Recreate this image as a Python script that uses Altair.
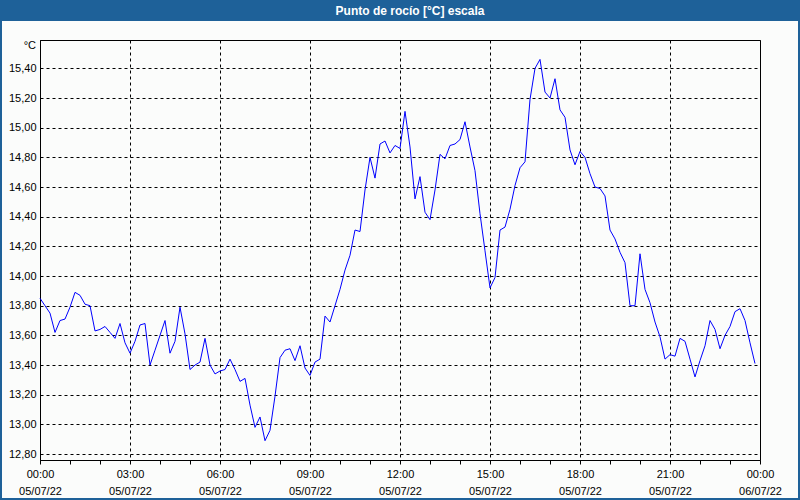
import altair as alt
import pandas as pd

# ---- data (10-minute readings, 05/07/22) ----
title_text = "Punto de rocío [°C] escala"
unit_text = "°C"
day1 = "05/07/22"
day2 = "06/07/22"
step_minutes = 10

dew_point = [
    13.85, 13.80, 13.75, 13.62, 13.70, 13.71, 13.79, 13.89, 13.87, 13.81,
    13.80, 13.63, 13.64, 13.66, 13.62, 13.58, 13.68, 13.55, 13.48, 13.56,
    13.67, 13.68, 13.40, 13.50, 13.60, 13.70, 13.48, 13.56, 13.79, 13.61,
    13.37, 13.40, 13.42, 13.58, 13.40, 13.34, 13.36, 13.37, 13.44, 13.37,
    13.29, 13.31, 13.13, 12.98, 13.05, 12.89, 12.96, 13.19, 13.45, 13.50,
    13.51, 13.43, 13.53, 13.38, 13.33, 13.42, 13.44, 13.73, 13.69, 13.80,
    13.91, 14.04, 14.14, 14.31, 14.30, 14.58, 14.80, 14.66, 14.89, 14.91,
    14.83, 14.88, 14.86, 15.11, 14.87, 14.52, 14.67, 14.43, 14.38, 14.58,
    14.82, 14.79, 14.88, 14.89, 14.92, 15.04, 14.87, 14.71, 14.42, 14.17,
    13.92, 13.99, 14.31, 14.33, 14.45, 14.61, 14.73, 14.77, 15.19, 15.40,
    15.46, 15.24, 15.20, 15.33, 15.12, 15.07, 14.85, 14.75, 14.84, 14.80,
    14.69, 14.60, 14.59, 14.54, 14.31, 14.25, 14.16, 14.09, 13.80, 13.80,
    14.15, 13.91, 13.82, 13.69, 13.59, 13.44, 13.47, 13.46, 13.58, 13.56,
    13.44, 13.32, 13.43, 13.53, 13.70, 13.64, 13.51, 13.60, 13.66, 13.76,
    13.78, 13.70, 13.55, 13.41,
]
hours = [i * step_minutes / 60 for i in range(len(dew_point))]

y_ticks = [12.8, 13.0, 13.2, 13.4, 13.6, 13.8, 14.0, 14.2, 14.4, 14.6, 14.8, 15.0, 15.2, 15.4]
x_ticks = list(range(0, 25))
y_domain = [12.76, 15.591]
x_domain = [0, 24]

df = pd.DataFrame({"h": hours, "v": dew_point})
one = pd.DataFrame({"k": [0]})

W, H = 720, 420
BLUE = "#1e6199"
FONT = "Liberation Sans"

x_label_expr = (
    "datum.value % 3 === 0 ? "
    "[(datum.value % 24 < 10 ? '0' : '') + (datum.value % 24) + ':00', "
    f"datum.value < 24 ? '{day1}' : '{day2}'] : ''"
)

x_axis = alt.Axis(
    values=x_ticks,
    title=None,
    grid=True,
    gridColor="black",
    gridDash=[3, 3],
    gridWidth=1,
    gridOpacity={"condition": {"test": "datum.value % 3 === 0", "value": 1}, "value": 0},
    tickSize=4,
    tickColor="black",
    domainColor="black",
    labelExpr=x_label_expr,
    labelOverlap=False,
    labelFlush=False,
    labelAlign="center",
    labelFont=FONT,
    labelFontSize=11,
    labelColor="black",
    labelPadding=4,
    labelLineHeight=17,
    labelBaseline="top",
)

y_axis = alt.Axis(
    values=y_ticks,
    title=None,
    grid=True,
    gridColor="black",
    gridDash=[3, 3],
    gridWidth=1,
    tickSize=0,
    domainColor="black",
    labelExpr="replace(format(datum.value, '.2f'), '.', ',')",
    labelFont=FONT,
    labelFontSize=11,
    labelColor="black",
    labelPadding=4,
)

line = alt.Chart(df).mark_line(color="#0000ff", strokeWidth=1).encode(
    x=alt.X("h:Q", scale=alt.Scale(domain=x_domain, nice=False, zero=False), axis=x_axis),
    y=alt.Y("v:Q", scale=alt.Scale(domain=y_domain, nice=False, zero=False), axis=y_axis),
)

title_bar = alt.Chart(one).mark_rect(color=BLUE).encode(
    x=alt.value(-40), x2=alt.value(760), y=alt.value(-40), y2=alt.value(-19)
)
title = alt.Chart(one).mark_text(
    text=title_text, color="white", font=FONT, fontSize=12, fontWeight="bold",
    align="center", baseline="middle",
).encode(x=alt.value(370), y=alt.value(-29))
unit = alt.Chart(one).mark_text(
    text=unit_text, color="black", font=FONT, fontSize=11, align="right", baseline="middle",
).encode(x=alt.value(-4), y=alt.value(6))
border = alt.Chart(one).mark_rect(filled=False, stroke=BLUE, strokeWidth=2).encode(
    x=alt.value(-39), x2=alt.value(759), y=alt.value(-39), y2=alt.value(459)
)

chart = alt.layer(title_bar, title, unit, border, line).properties(
    width=W,
    height=H,
    autosize=alt.AutoSizeParams(type="none"),
    padding={"left": 40, "top": 40, "right": 40, "bottom": 40},
    background="#fbfcfb",
).configure_view(stroke="black", strokeWidth=1)

chart.save("out.html", embed_options={"renderer": "svg", "actions": False})
